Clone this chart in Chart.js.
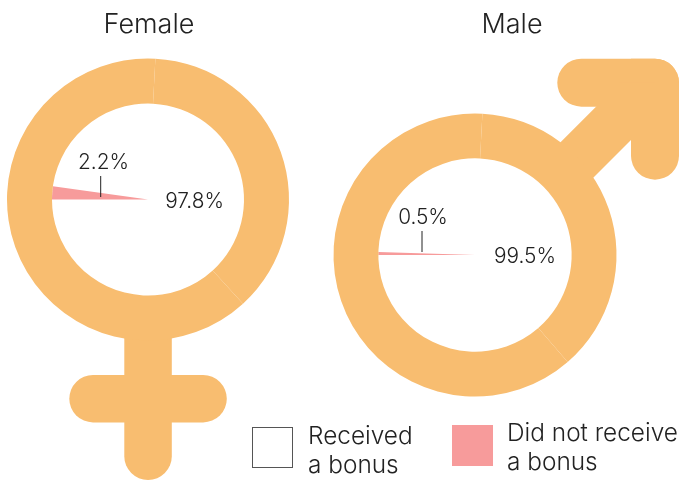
<!DOCTYPE html>
<html><head><meta charset="utf-8">
<script src="https://cdn.jsdelivr.net/npm/chart.js@4"></script>
<style>
html,body{margin:0;padding:0;background:#fff;width:680px;height:480px;overflow:hidden}
canvas{position:absolute;left:0;top:0}
.t{position:absolute;font-family:Inter,sans-serif;font-weight:300;color:#222;font-size:24.4px;line-height:29px;white-space:nowrap}
.b{position:absolute;box-sizing:border-box;width:41px;height:41px}
</style></head><body>
<canvas id="f" width="680" height="480"></canvas>
<canvas id="m" width="680" height="480"></canvas>
<div class="b" style="left:252px;top:427px;background:#fff;border:1px solid #555"></div>
<div class="t" style="left:308px;top:420.5px">Received<br>a bonus</div>
<div class="b" style="left:452px;top:425px;background:#f79b9b"></div>
<div class="t" style="left:507px;top:417.5px">Did not receive<br>a bonus</div>
<script>
const ringColor = '#f8bd70';
const pink = '#f79b9b';
const femaleRing = [37.4, 62.6];
const maleRing = [37.8, 62.2];
const categories = ['Received a bonus', 'Did not receive a bonus'];
const femaleValues = [97.8, 2.2];
const maleValues = [99.5, 0.5];
const titles = ['Female', 'Male'];

function roundBar(c, x0, y0, x1, y1, r) { c.beginPath(); c.roundRect(x0, y0, x1 - x0, y1 - y0, r); c.fill(); }

function glyphFemale(c) {
  c.fillStyle = ringColor;
  roundBar(c, 124.3, 320, 171.8, 480, [0, 0, 23.7, 23.7]);
  roundBar(c, 69.3, 375, 226.8, 422.4, 23.7);
}
function glyphMale(c) {
  c.fillStyle = ringColor;
  roundBar(c, 557.3, 58.7, 679, 106.7, [24, 24, 0, 24]);
  roundBar(c, 631, 58.7, 679, 179.7, [0, 24, 24, 24]);
  c.beginPath(); c.moveTo(555, 147.7); c.lineTo(620, 82.7); c.lineTo(655, 82.7); c.lineTo(655, 116); c.lineTo(588, 183); c.closePath(); c.fill();
}

function makeChart(id, ring, values, ringRot, pad, glyph, conf) {
  const pieRot = 270 + values[1] * 3.6;
  new Chart(document.getElementById(id), {
    type: 'doughnut',
    plugins: [{
      id: 'decor',
      beforeDatasetsDraw(ch) { glyph(ch.ctx); },
      afterDatasetsDraw(ch) {
        const c = ch.ctx;
        c.save();
        c.fillStyle = '#222'; c.strokeStyle = '#222'; c.lineWidth = 1;
        c.font = '300 27px Inter'; c.textAlign = 'center';
        c.fillText(conf.title, conf.tx, 33);
        c.font = '300 20.8px Inter';
        c.fillText(conf.small + '%', conf.sx, conf.sy);
        c.fillText(conf.big + '%', conf.bx, conf.by);
        c.beginPath(); c.moveTo(conf.lx, conf.l0); c.lineTo(conf.lx, conf.l1); c.stroke();
        c.restore();
      }
    }],
    data: {
      labels: categories,
      datasets: [
        { data: ring, backgroundColor: [ringColor, ringColor], borderWidth: 0, weight: conf.rw, rotation: ringRot, circumference: 360 },
        { data: values, backgroundColor: ['#ffffff', pink], borderWidth: 0, weight: conf.pw, rotation: pieRot, circumference: 360 }
      ]
    },
    options: {
      responsive: false, animation: false, cutout: 0,
      layout: { padding: pad },
      plugins: { legend: { display: false }, tooltip: { enabled: false } }
    }
  });
}
makeChart('f', femaleRing, femaleValues, 3, { left: 7, right: 391, top: 58.5, bottom: 139.5 }, glyphFemale,
  { title: titles[0], tx: 149, small: femaleValues[1], big: femaleValues[0], sx: 103.5, sy: 169, bx: 194.5, by: 208, lx: 100.7, l0: 176, l1: 197, rw: 45, pw: 96 });
makeChart('m', maleRing, maleValues, 3, { left: 333.5, right: 63.5, top: 113, bottom: 83 }, glyphMale,
  { title: titles[1], tx: 512, small: maleValues[1], big: maleValues[0], sx: 423, sy: 224, bx: 525, by: 263, lx: 422, l0: 231, l1: 252, rw: 45, pw: 97 });
</script>
</body></html>
